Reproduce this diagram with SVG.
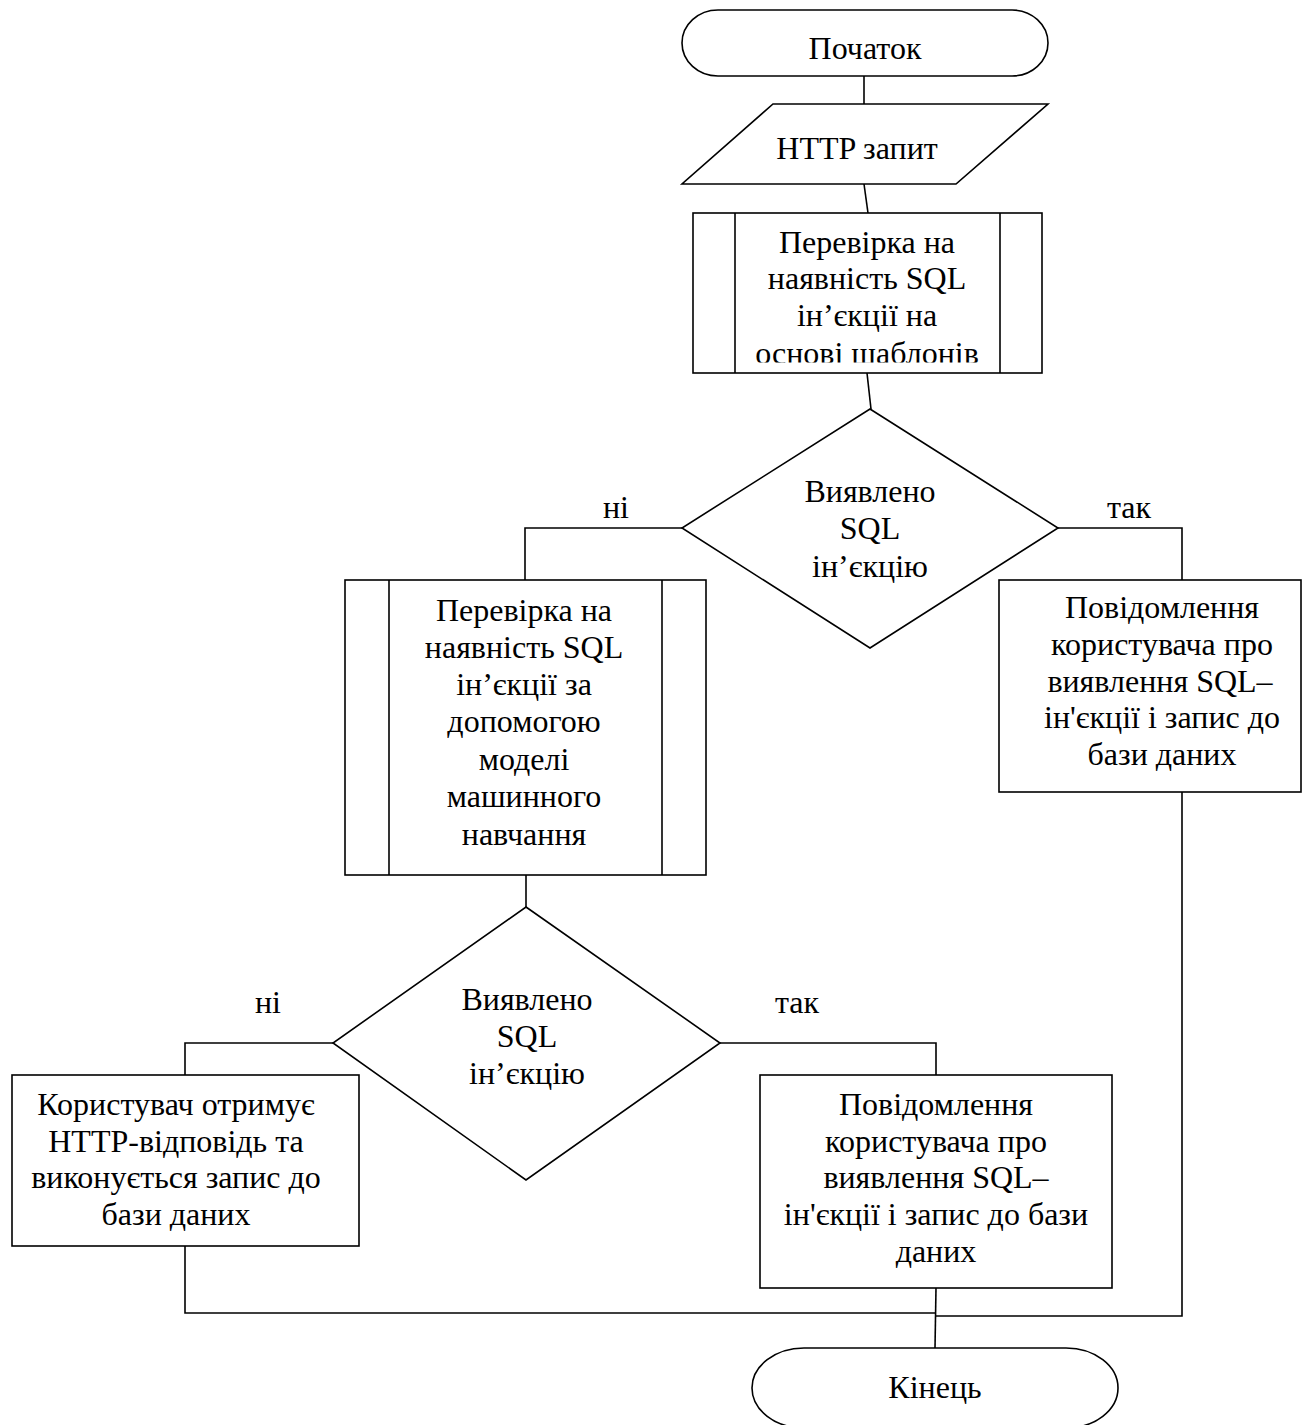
<svg xmlns="http://www.w3.org/2000/svg" width="1302" height="1425" viewBox="0 0 1302 1425">
  <style>
    .shape { fill: #ffffff; stroke: #000000; stroke-width: 1.6; }
    .edge { fill: none; stroke: #000000; stroke-width: 1.6; }
    .lbl { font-family: "Liberation Serif", "Times New Roman", serif; font-size: 32px; fill: #000000; text-anchor: middle; }
  </style>
  <defs>
    <clipPath id="clip-check1">
      <rect x="693" y="213" width="349" height="149.5"/>
    </clipPath>
  </defs>
  <rect width="1302" height="1425" fill="#ffffff"/>

  <!-- connectors -->
  <g id="connectors">
    <path class="edge" d="M864 76 L864 104"/>
    <path class="edge" d="M864 184 L868 213"/>
    <path class="edge" d="M867 373 L871 409"/>
    <path class="edge" d="M682 528 L525 528 L525 580"/>
    <path class="edge" d="M1058 528 L1182 528 L1182 580"/>
    <path class="edge" d="M526 875 L526 907"/>
    <path class="edge" d="M333 1043 L185 1043 L185 1075"/>
    <path class="edge" d="M720 1043 L936 1043 L936 1075"/>
    <path class="edge" d="M185 1246 L185 1313 L936 1313"/>
    <path class="edge" d="M1182 792 L1182 1316 L936 1316"/>
    <path class="edge" d="M936 1288 L935 1348"/>
    <text class="lbl" x="616" y="518">ні</text>
    <text class="lbl" x="1129" y="518">так</text>
    <text class="lbl" x="268" y="1013">ні</text>
    <text class="lbl" x="797" y="1013">так</text>
  </g>

  <!-- start terminal -->
  <g id="start">
    <rect class="shape" x="682" y="10" width="366" height="66" rx="36" ry="33"/>
    <text class="lbl" x="865" y="59">Початок</text>
  </g>

  <!-- input -->
  <g id="http-request">
    <polygon class="shape" points="773,104 1048,104 956,184 682,184"/>
    <text class="lbl" x="857" y="159">HTTP запит</text>
  </g>

  <!-- pattern-based check -->
  <g id="check-patterns">
    <rect class="shape" x="693" y="213" width="349" height="160"/>
    <line class="edge" x1="735" y1="213" x2="735" y2="373"/>
    <line class="edge" x1="1000" y1="213" x2="1000" y2="373"/>
    <g clip-path="url(#clip-check1)">
      <text class="lbl" x="867" y="253">Перевірка на</text>
      <text class="lbl" x="867" y="289">наявність SQL</text>
      <text class="lbl" x="867" y="326">ін’єкції на</text>
      <text class="lbl" x="867" y="364">основі шаблонів</text>
    </g>
  </g>

  <!-- decision 1 -->
  <g id="decision1">
    <polygon class="shape" points="870,409 1058,528 870,648 682,528"/>
    <text class="lbl" x="870" y="502">Виявлено</text>
    <text class="lbl" x="870" y="539">SQL</text>
    <text class="lbl" x="870" y="577">ін’єкцію</text>
  </g>

  <!-- ML-based check -->
  <g id="check-ml">
    <rect class="shape" x="345" y="580" width="361" height="295"/>
    <line class="edge" x1="389" y1="580" x2="389" y2="875"/>
    <line class="edge" x1="662" y1="580" x2="662" y2="875"/>
    <text class="lbl" x="524" y="621">Перевірка на</text>
    <text class="lbl" x="524" y="658">наявність SQL</text>
    <text class="lbl" x="524" y="695">ін’єкції за</text>
    <text class="lbl" x="524" y="732">допомогою</text>
    <text class="lbl" x="524" y="770">моделі</text>
    <text class="lbl" x="524" y="807">машинного</text>
    <text class="lbl" x="524" y="845">навчання</text>
  </g>

  <!-- notify (pattern hit) -->
  <g id="notify1">
    <rect class="shape" x="999" y="580" width="302" height="212"/>
    <text class="lbl" x="1162" y="618">Повідомлення</text>
    <text class="lbl" x="1162" y="655">користувача про</text>
    <text class="lbl" x="1160" y="692">виявлення SQL–</text>
    <text class="lbl" x="1162" y="728">ін'єкції і запис до</text>
    <text class="lbl" x="1162" y="765">бази даних</text>
  </g>

  <!-- decision 2 -->
  <g id="decision2">
    <polygon class="shape" points="526,907 720,1043 526,1180 333,1043"/>
    <text class="lbl" x="527" y="1010">Виявлено</text>
    <text class="lbl" x="527" y="1047">SQL</text>
    <text class="lbl" x="527" y="1084">ін’єкцію</text>
  </g>

  <!-- normal response -->
  <g id="response">
    <rect class="shape" x="12" y="1075" width="347" height="171"/>
    <text class="lbl" x="176" y="1115">Користувач отримує</text>
    <text class="lbl" x="176" y="1152">HTTP-відповідь та</text>
    <text class="lbl" x="176" y="1188">виконується запис до</text>
    <text class="lbl" x="176" y="1225">бази даних</text>
  </g>

  <!-- notify (model hit) -->
  <g id="notify2">
    <rect class="shape" x="760" y="1075" width="352" height="213"/>
    <text class="lbl" x="936" y="1115">Повідомлення</text>
    <text class="lbl" x="936" y="1152">користувача про</text>
    <text class="lbl" x="936" y="1188">виявлення SQL–</text>
    <text class="lbl" x="936" y="1225">ін'єкції і запис до бази</text>
    <text class="lbl" x="936" y="1262">даних</text>
  </g>

  <!-- end terminal -->
  <g id="end">
    <rect class="shape" x="752" y="1348" width="366" height="80" rx="52" ry="40"/>
    <text class="lbl" x="935" y="1398">Кінець</text>
  </g>
</svg>
